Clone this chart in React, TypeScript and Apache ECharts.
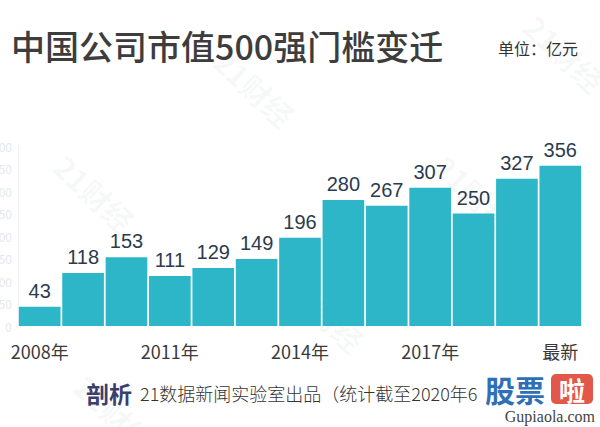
import React, { useEffect, useRef } from "react";
import * as echarts from "echarts";

const categories = ["2008年", "2009年", "2010年", "2011年", "2012年", "2013年", "2014年", "2015年", "2016年", "2017年", "2018年", "2019年", "最新"];
const thresholds = [43, 118, 153, 111, 129, 149, 196, 280, 267, 307, 250, 327, 356];
const yTicks = { min: 0, max: 400, interval: 50 };

const TITLE = "中国公司市值500强门槛变迁";
const UNIT = "单位：亿元";
const FOOTER = "21数据新闻实验室出品（统计截至2020年6";

const CJK = '"Noto Sans CJK SC", "Noto Sans", sans-serif';

export default function App() {
  const ref = useRef<HTMLDivElement>(null);
  useEffect(() => {
    if (!ref.current) return;
    const chart = echarts.init(ref.current, null, { renderer: "svg" });
    const wm = (x: number, y: number) => ({
      type: "text",
      x,
      y,
      rotation: -0.75,
      silent: true,
      style: {
        text: "21财经",
        fontSize: 30,
        fontWeight: "bold",
        fontFamily: CJK,
        fill: "rgba(120,130,140,0.06)",
      },
    });
    chart.setOption({
      animation: false,
      backgroundColor: "#ffffff",
      grid: { left: 18, right: 18, top: 146, bottom: 101, containLabel: false, outerBoundsMode: "none" },
      xAxis: {
        type: "category",
        data: categories,
        axisLine: { show: false },
        axisTick: { show: false },
        axisLabel: {
          interval: 2,
          margin: 16,
          fontSize: 18,
          color: "#3a3a3a",
          fontFamily: CJK,
        },
      },
      yAxis: {
        type: "value",
        min: yTicks.min,
        max: yTicks.max,
        interval: yTicks.interval,
        splitLine: { show: false },
        axisLine: { show: true, lineStyle: { color: "#eef2f5", width: 1 } },
        axisTick: { show: false },
        axisLabel: { margin: 6, fontSize: 12, color: "#e4e9ee", fontFamily: CJK },
      },
      series: [
        {
          type: "bar",
          data: thresholds,
          barCategoryGap: "4%",
          itemStyle: { color: "#2cb6c7" },
          label: {
            show: true,
            position: "top",
            distance: 6,
            fontSize: 20,
            color: "#2b3b4d",
            fontFamily: '"Liberation Sans", Arial, sans-serif',
          },
        },
      ],
      graphic: [
        wm(70, 150),
        wm(230, 45),
        wm(300, 270),
        wm(450, 150),
        wm(540, 10),
        wm(90, 370),
        {
          type: "text",
          x: 11,
          y: 45,
          style: {
            text: TITLE,
            fontSize: 34,
            fontWeight: 500,
            fontFamily: CJK,
            fill: "#3d3d3d",
            verticalAlign: "middle",
          },
        },
        {
          type: "text",
          x: 498,
          y: 48,
          style: {
            text: UNIT,
            fontSize: 16,
            fontFamily: CJK,
            fill: "#333333",
            verticalAlign: "middle",
          },
        },
        {
          type: "text",
          x: 86,
          y: 393,
          style: {
            text: "剖析",
            fontSize: 23,
            fontWeight: "bold",
            fontFamily: CJK,
            fill: "#3a3f6e",
            verticalAlign: "middle",
          },
        },
        {
          type: "text",
          x: 140,
          y: 393,
          style: {
            text: FOOTER,
            fontSize: 18,
            fontFamily: CJK,
            fontWeight: 300,
            fill: "#333333",
            verticalAlign: "middle",
          },
        },
        {
          type: "text",
          x: 485,
          y: 389,
          style: {
            text: "股票",
            fontSize: 30,
            fontWeight: "bold",
            fontFamily: CJK,
            fill: "#2f6fb6",
            verticalAlign: "middle",
          },
        },
        {
          type: "rect",
          shape: { x: 551, y: 374, width: 42, height: 30, r: 5 },
          style: { fill: "#e2574a" },
        },
        {
          type: "text",
          x: 572,
          y: 389,
          style: {
            text: "啦",
            fontSize: 26,
            fontWeight: "bold",
            fontFamily: CJK,
            fill: "#ffffff",
            align: "center",
            verticalAlign: "middle",
          },
        },
        {
          type: "text",
          x: 595,
          y: 416,
          style: {
            text: "Gupiaola.com",
            fontSize: 16,
            fontFamily: '"Liberation Serif", "DejaVu Serif", serif',
            fill: "#444444",
            align: "right",
            verticalAlign: "middle",
          },
        },
      ],
    });
    return () => chart.dispose();
  }, []);
  return (
    <div
      ref={ref}
      style={{ position: "absolute", left: 0, top: 0, width: 600, height: 427, background: "#fff" }}
    />
  );
}
